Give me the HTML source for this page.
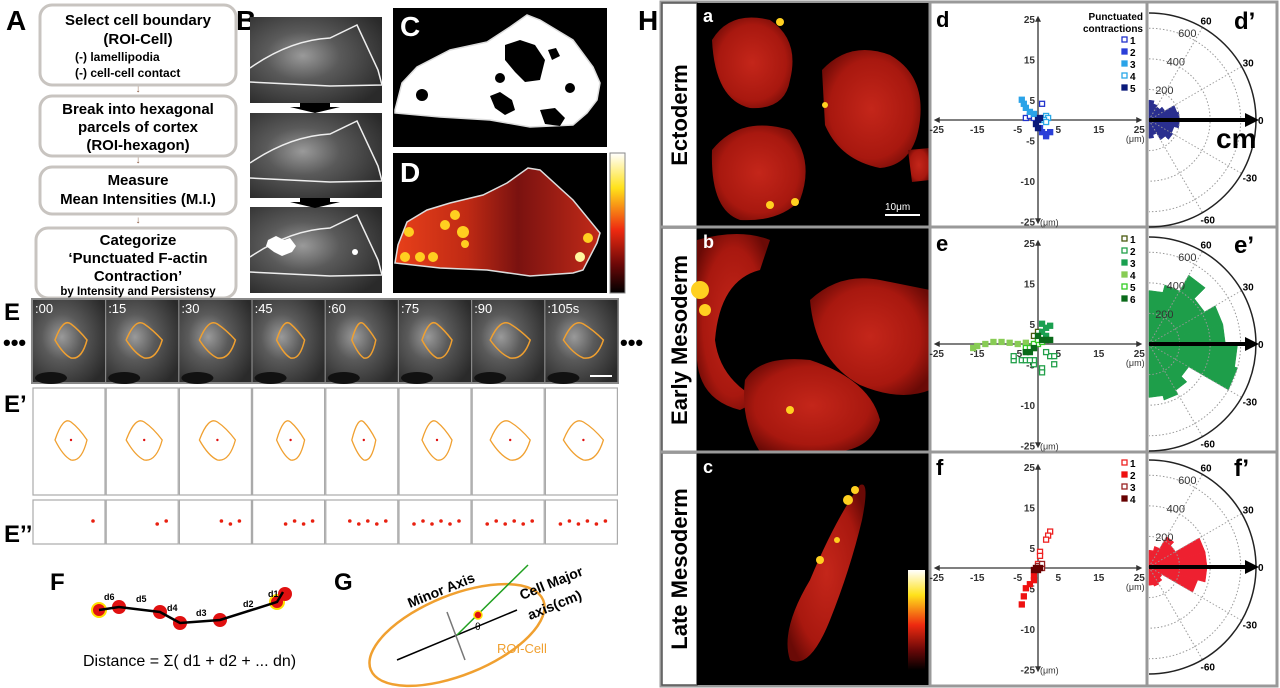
<!DOCTYPE html>
<html><head><meta charset="utf-8"><style>
html,body{margin:0;padding:0;background:#fff;}
svg{display:block;font-family:"Liberation Sans",Arial,sans-serif;}
</style></head><body>
<svg id="fig" width="1280" height="688" viewBox="0 0 1280 688" xmlns="http://www.w3.org/2000/svg">
<defs>
<radialGradient id="grayimg" cx="0.4" cy="0.45" r="0.7"><stop offset="0" stop-color="#9a9a9a"/><stop offset="0.4" stop-color="#5a5a5a"/><stop offset="1" stop-color="#2a2a2a"/></radialGradient>
<radialGradient id="redcell" cx="0.5" cy="0.5" r="0.6"><stop offset="0" stop-color="#c4261a"/><stop offset="0.7" stop-color="#a8180f"/><stop offset="1" stop-color="#6a0a06"/></radialGradient>
<linearGradient id="dgrad" x1="0" y1="0" x2="1" y2="0"><stop offset="0" stop-color="#e8401a"/><stop offset="0.35" stop-color="#c02a14"/><stop offset="0.6" stop-color="#7a1210"/><stop offset="1" stop-color="#c22a18"/></linearGradient>
<linearGradient id="cbar" x1="0" y1="0" x2="0" y2="1"><stop offset="0" stop-color="#ffffff"/><stop offset="0.25" stop-color="#ffe21a"/><stop offset="0.55" stop-color="#ee2a10"/><stop offset="0.8" stop-color="#6a0808"/><stop offset="1" stop-color="#000"/></linearGradient>
</defs>

<!-- Panel A -->
<g>
<text x="6" y="30" font-size="28" font-weight="bold">A</text>
<rect x="40" y="5" width="196" height="80" rx="12" fill="#fff" stroke="#c8c4c0" stroke-width="3"/>
<text x="138" y="25" font-size="15" font-weight="bold" text-anchor="middle">Select cell boundary</text>
<text x="138" y="44" font-size="15" font-weight="bold" text-anchor="middle">(ROI-Cell)</text>
<text x="75" y="61" font-size="12" font-weight="bold">(-) lamellipodia</text>
<text x="75" y="77" font-size="12" font-weight="bold">(-) cell-cell contact</text>
<text x="138" y="92" font-size="10" fill="#8a5a40" text-anchor="middle">↓</text>
<rect x="40" y="96" width="196" height="60" rx="12" fill="#fff" stroke="#c8c4c0" stroke-width="3"/>
<text x="138" y="114" font-size="15" font-weight="bold" text-anchor="middle">Break into hexagonal</text>
<text x="138" y="132" font-size="15" font-weight="bold" text-anchor="middle">parcels of cortex</text>
<text x="138" y="150" font-size="15" font-weight="bold" text-anchor="middle">(ROI-hexagon)</text>
<text x="138" y="163" font-size="10" fill="#8a5a40" text-anchor="middle">↓</text>
<rect x="40" y="167" width="196" height="47" rx="12" fill="#fff" stroke="#c8c4c0" stroke-width="3"/>
<text x="138" y="185" font-size="15" font-weight="bold" text-anchor="middle">Measure</text>
<text x="138" y="204" font-size="15" font-weight="bold" text-anchor="middle">Mean Intensities (M.I.)</text>
<text x="138" y="223" font-size="10" fill="#8a5a40" text-anchor="middle">↓</text>
<rect x="36" y="228" width="200" height="70" rx="12" fill="#fff" stroke="#c8c4c0" stroke-width="3"/>
<text x="138" y="245" font-size="15" font-weight="bold" text-anchor="middle">Categorize</text>
<text x="138" y="263" font-size="15" font-weight="bold" text-anchor="middle">‘Punctuated F-actin</text>
<text x="138" y="281" font-size="15" font-weight="bold" text-anchor="middle">Contraction’</text>
<text x="138" y="295" font-size="11.5" font-weight="bold" text-anchor="middle">by Intensity and Persistensy</text>
</g>

<!-- Panel B -->
<g>
<text x="236" y="30" font-size="28" font-weight="bold">B</text>
<rect x="250" y="17" width="132" height="86" fill="url(#grayimg)"/>
<rect x="250" y="113" width="132" height="85" fill="url(#grayimg)"/>
<rect x="250" y="207" width="132" height="86" fill="url(#grayimg)"/>
<path d="M250 68 Q290 40 330 38 L357 25 L378 70 L382 85 L330 86 L250 82" fill="none" stroke="#eee" stroke-width="1.5"/>
<path d="M250 163 Q290 136 330 134 L357 121 L378 166 L382 181 L330 182 L250 178" fill="none" stroke="#eee" stroke-width="1.5"/>
<path d="M250 257 Q290 230 330 228 L357 215 L378 260 L382 275 L330 276 L250 272" fill="none" stroke="#eee" stroke-width="1.5"/>
<path d="M268 240 l8 -4 8 4 6 -2 6 8 -4 6 -10 4 -8 -4 -8 -6z" fill="#fff"/>
<circle cx="355" cy="252" r="3" fill="#fff"/>
<polygon points="300,103 330,103 330,107 340,107 315,113 290,107 300,107" fill="#000"/>
<polygon points="300,198 330,198 330,202 340,202 315,208 290,202 300,202" fill="#000"/>
</g>

<!-- Panel C -->
<g>
<rect x="393" y="8" width="214" height="139" fill="#000"/>
<polygon points="395,110 402,83 417,67 450,50 487,42 510,27 527,15 540,20 573,40 593,67 600,83 597,100 587,113 573,125 530,127 490,120 440,117 395,113" fill="#fff" stroke="#ddd" stroke-width="1.5"/>
<g fill="#000">
<polygon points="505,45 520,40 535,45 545,60 540,80 525,82 515,72 505,60"/>
<polygon points="548,50 556,48 560,56 552,60"/>
<circle cx="422" cy="95" r="6"/><circle cx="500" cy="78" r="5"/><circle cx="570" cy="88" r="5"/>
<polygon points="490,96 500,92 512,100 515,110 505,115 495,108"/>
<polygon points="540,110 555,108 565,118 560,126 545,124"/>
</g>
<text x="400" y="36" font-size="28" font-weight="bold" fill="#fff">C</text>
</g>

<!-- Panel D -->
<g>
<rect x="393" y="153" width="214" height="140" fill="#000"/>
<polygon points="395,263 398,245 407,222 427,210 450,203 483,195 507,183 528,168 540,170 573,200 600,233 597,243 583,270 573,273 530,276 487,270 440,268 395,263" fill="url(#dgrad)" stroke="#ddd" stroke-width="1.5"/>
<g fill="#ffcf20">
<circle cx="455" cy="215" r="5"/><circle cx="463" cy="232" r="6"/><circle cx="445" cy="225" r="5"/><circle cx="405" cy="257" r="5"/><circle cx="420" cy="257" r="5"/><circle cx="433" cy="257" r="5"/><circle cx="409" cy="232" r="5"/><circle cx="465" cy="244" r="4"/><circle cx="588" cy="238" r="5"/><circle cx="580" cy="257" r="5" fill="#fff8a0"/>
</g>
<text x="400" y="182" font-size="28" font-weight="bold" fill="#fff">D</text>
<rect x="610" y="153" width="15" height="140" fill="url(#cbar)" stroke="#888"/>
</g>

<!-- Panel E -->
<g>
<text x="4" y="320" font-size="24" font-weight="bold">E</text>
<text x="3" y="350" font-size="22" font-weight="bold">•••</text>
<text x="620" y="350" font-size="22" font-weight="bold">•••</text>
<rect x="31" y="298" width="588" height="86" fill="#888"/>
<g id="eframes"></g>
<text x="4" y="412" font-size="24" font-weight="bold">E’</text>
<text x="4" y="562" font-size="24" font-weight="bold" transform="translate(0,-20)">E’’</text>
</g>

<!-- Panel F -->
<g>
<text x="50" y="590" font-size="24" font-weight="bold">F</text>
<g fill="#e01010"><circle cx="99" cy="610" r="7" stroke="#ffe000" stroke-width="2"/><circle cx="119" cy="607" r="7"/><circle cx="160" cy="612" r="7"/><circle cx="180" cy="623" r="7"/><circle cx="220" cy="620" r="7"/><circle cx="277" cy="602" r="7" stroke="#ffe000" stroke-width="2"/><circle cx="285" cy="594" r="7"/></g>
<polyline points="99,610 119,607 160,612 180,623 220,620 277,602 283,592" fill="none" stroke="#000" stroke-width="2.5"/>
<g font-size="9" font-weight="bold"><text x="104" y="600">d6</text><text x="136" y="602">d5</text><text x="167" y="611">d4</text><text x="196" y="616">d3</text><text x="243" y="607">d2</text><text x="268" y="597">d1</text></g>
<text x="83" y="666" font-size="16">Distance = Σ( d1 + d2 + ...  dn)</text>
</g>

<!-- Panel G -->
<g>
<text x="334" y="590" font-size="24" font-weight="bold">G</text>
<ellipse cx="457" cy="635" rx="93" ry="40" transform="rotate(-22 457 635)" fill="none" stroke="#f0a030" stroke-width="2.5"/>
<line x1="397" y1="660" x2="517" y2="610" stroke="#000" stroke-width="1.5"/>
<line x1="447" y1="612" x2="465" y2="660" stroke="#777" stroke-width="1.5"/>
<line x1="457" y1="635" x2="528" y2="565" stroke="#20a020" stroke-width="1.5"/>
<circle cx="478" cy="615" r="4" fill="#e01010" stroke="#ffe000" stroke-width="1.5"/>
<text x="475" y="630" font-size="10">θ</text>
<text x="410" y="608" font-size="14" font-weight="bold" transform="rotate(-22 410 608)">Minor Axis</text>
<text x="522" y="600" font-size="14" font-weight="bold" transform="rotate(-22 522 600)">Cell Major</text>
<text x="530" y="620" font-size="14" font-weight="bold" transform="rotate(-22 530 620)">axis(cm)</text>
<text x="497" y="653" font-size="13" fill="#f0a030">ROI-Cell</text>
</g>

<!-- Panel H -->
<g>
<text x="638" y="30" font-size="28" font-weight="bold">H</text>
<rect x="661" y="2" width="616" height="684" fill="none" stroke="#999" stroke-width="3"/>
<g id="rowlabels"></g>
<!-- images -->
<rect x="697" y="3" width="233" height="224" fill="#000"/>
<rect x="697" y="228" width="233" height="224" fill="#000"/>
<rect x="697" y="453" width="233" height="232" fill="#000"/>
<g fill="url(#redcell)">
<path d="M712 40 Q730 10 770 20 Q800 40 790 80 Q785 110 750 108 Q715 100 712 40z"/>
<path d="M822 70 Q850 40 890 55 Q925 75 920 120 Q915 165 880 168 Q840 160 825 125z"/>
<path d="M712 150 Q740 115 790 130 Q815 160 800 200 Q780 222 740 220 Q710 210 712 150z"/>
<path d="M908 150 L930 148 L930 180 L912 182z"/>
<path d="M697 240 Q740 228 770 240 L760 270 Q720 280 715 340 Q720 380 760 400 L740 410 Q700 400 697 360z"/>
<path d="M810 300 Q840 272 880 280 L930 290 L930 390 Q900 402 860 385 Q815 360 810 300z"/>
<path d="M745 380 Q760 355 810 360 Q870 380 880 420 Q870 452 830 452 L760 452 Q740 420 745 380z"/>
<path d="M790 660 Q780 630 810 580 Q835 520 860 485 Q870 480 862 520 Q850 570 830 620 Q810 670 790 660z"/>
</g>
<g fill="#ffd020"><circle cx="770" cy="205" r="4"/><circle cx="795" cy="202" r="4"/><circle cx="780" cy="22" r="4"/><circle cx="825" cy="105" r="3"/><circle cx="700" cy="290" r="9"/><circle cx="705" cy="310" r="6"/><circle cx="790" cy="410" r="4"/><circle cx="848" cy="500" r="5"/><circle cx="855" cy="490" r="4"/><circle cx="820" cy="560" r="4"/><circle cx="837" cy="540" r="3"/></g>
<line x1="885" y1="215" x2="920" y2="215" stroke="#fff" stroke-width="2"/>
<text x="885" y="210" font-size="10" fill="#fff">10μm</text>
<rect x="908" y="570" width="17" height="100" fill="url(#cbar)"/>
<text x="703" y="22" font-size="18" font-weight="bold" fill="#fff">a</text>
<text x="703" y="248" font-size="18" font-weight="bold" fill="#fff">b</text>
<text x="703" y="473" font-size="18" font-weight="bold" fill="#fff">c</text>
<line x1="930" y1="2" x2="930" y2="686" stroke="#999" stroke-width="3"/>
<line x1="1147" y1="2" x2="1147" y2="686" stroke="#999" stroke-width="3"/>
<line x1="661" y1="227" x2="1277" y2="227" stroke="#999" stroke-width="3"/>
<line x1="661" y1="452" x2="1277" y2="452" stroke="#999" stroke-width="3"/>
<g id="plots"></g>
</g>
</svg>
<script>
// ---- Scatter data (μm) ----
const dX1=[-3,-2,1,-1], dY1=[0.5,1,4,0.5];
const dX2=[1,2,3,2,0.5], dY2=[-3,-4,-3,-3.5,-2];
const dX3=[-4,-3.5,-3,-2,-1], dY3=[5,4,3,2,1.5];
const dX4=[2,2.5,1.5,2], dY4=[1,0.5,0,-0.5];
const dX5=[0,-0.5,0.5,0], dY5=[0,-1,0.5,-2];
const eX1=[-1,0,1,2], eY1=[2,3,2,1];
const eX2=[-6,-6,-4,-3,-1,-1,1,1,3,4,4,2,-2], eY2=[-4,-3,-4,-4,-5,-4,-6,-7,-3,-3,-5,-2,-4];
const eX3=[1,2,3,1,2,0], eY3=[5,4,4.5,3,2,1];
const eX4=[-16,-15,-13,-11,-9,-7,-5,-3], eY4=[-1,-0.5,0,0.5,0.5,0.3,0,0.3];
const eX5=[-3,-2,-1,0,1,-1,0], eY5=[-1,-1,-1,0,0.5,0,1];
const eX6=[-3,-2,-1,0,1,2,3], eY6=[-2,-2,-1,2,1,1,1];
const fX1=[3,2.5,2,0.5,0.5,0], fY1=[9,8,7,4,3,1];
const fX2=[-4,-3.5,-3,-2,-1,-1], fY2=[-9,-7,-5,-4,-3,-2];
const fX3=[0,1,1], fY3=[0.5,0,1];
const fX4=[-1,0,0.5,-0.5], fY4=[-0.5,-0.5,0,0];
const xTicks=[-25,-15,-5,5,15,25];
const yTickVals=[25,15,5,-5,-15,-25];
const yTickLabels=["25","15","5","-5","-10","-25"];
// ---- Rose data ----
const roseAngles=[-82.5,-67.5,-52.5,-37.5,-22.5,-7.5,7.5,22.5,37.5,52.5,67.5,82.5];
const roseD=[120,100,150,180,170,200,200,190,120,100,110,130];
const roseE=[350,380,350,300,600,580,500,500,420,520,400,350];
const roseF=[120,130,120,100,330,380,380,380,200,230,140,110];
const ringVals=[200,400,600];
const angleLabels=[60,30,0,-30,-60];

const NS="http://www.w3.org/2000/svg";
function mk(tag,attrs,parent){const e=document.createElementNS(NS,tag);for(const k in attrs)e.setAttribute(k,attrs[k]);parent.appendChild(e);return e;}
const plots=document.getElementById('plots');

function scatter(top,letter,series,legendTitle){
  const g=mk('g',{},plots);
  
  
  const oy=top+115, ox=1038, k=4.05;
  const sx=v=>ox+v*k, sy=v=>oy-v*k;
  mk('line',{x1:sx(-25),y1:oy,x2:sx(25),y2:oy,stroke:'#333','stroke-width':1.3},g);
  mk('line',{x1:ox,y1:sy(25),x2:ox,y2:sy(-25),stroke:'#333','stroke-width':1.3},g);
  mk('path',{d:`M${sx(25)+3} ${oy} l-6 -3 0 6z M${sx(-25)-3} ${oy} l6 -3 0 6z M${ox} ${sy(25)-3} l-3 6 6 0z M${ox} ${sy(-25)+3} l-3 -6 6 0z`,fill:'#333'},g);
  xTicks.forEach(v=>{const t=mk('text',{x:sx(v),y:oy+13,'font-size':10,'font-weight':'bold','text-anchor':'middle',fill:'#333'},g);t.textContent=v;});
  yTickVals.forEach((v,i)=>{const t=mk('text',{x:ox-3,y:sy(v)+4,'font-size':10,'font-weight':'bold','text-anchor':'end',fill:'#333'},g);t.textContent=yTickLabels[i];});
  const u1=mk('text',{x:sx(25)-4,y:oy+22,'font-size':9,'text-anchor':'middle',fill:'#333'},g);u1.textContent='(μm)';
  const u2=mk('text',{x:ox+2,y:sy(-25)+4,'font-size':9,fill:'#333'},g);u2.textContent='(μm)';
  const lt=mk('text',{x:936,y:top+22,'font-size':22,'font-weight':'bold'},g);lt.textContent=letter;
  let ly=top+14;
  if(legendTitle){
    const a=mk('text',{x:1143,y:top+15,'font-size':10,'font-weight':'bold','text-anchor':'end'},g);a.textContent='Punctuated';
    const b=mk('text',{x:1143,y:top+27,'font-size':10,'font-weight':'bold','text-anchor':'end'},g);b.textContent='contractions';
    ly=top+39;
  }
  series.forEach((s,i)=>{
    s.xs.forEach((xv,j)=>{
      const r=mk('rect',{x:sx(xv)-2.5,y:sy(s.ys[j])-2.5,width:5,height:5,fill:s.open?'#fff':s.c,stroke:s.c,'stroke-width':1.3},g);
      
      
    });
    mk('rect',{x:1122,y:ly+i*12-7,width:5,height:5,fill:s.open?'#fff':s.c,stroke:s.c,'stroke-width':1.3},g);
    const t=mk('text',{x:1130,y:ly+i*12,'font-size':10,'font-weight':'bold'},g);t.textContent=(i+1);
  });
}
scatter(5,'d',[
 {xs:dX1,ys:dY1,c:'#2233cc',open:true},{xs:dX2,ys:dY2,c:'#2a3fd8'},{xs:dX3,ys:dY3,c:'#2aa3e8'},{xs:dX4,ys:dY4,c:'#2aa8e8',open:true},{xs:dX5,ys:dY5,c:'#0a1a7a'}],true);
scatter(229,'e',[
 {xs:eX1,ys:eY1,c:'#4a5a10',open:true},{xs:eX2,ys:eY2,c:'#22a04a',open:true},{xs:eX3,ys:eY3,c:'#1aa050'},{xs:eX4,ys:eY4,c:'#88cc55'},{xs:eX5,ys:eY5,c:'#33cc22',open:true},{xs:eX6,ys:eY6,c:'#0a6a1a'}],false);
scatter(453,'f',[
 {xs:fX1,ys:fY1,c:'#ee2222',open:true},{xs:fX2,ys:fY2,c:'#ee1111'},{xs:fX3,ys:fY3,c:'#992222',open:true},{xs:fX4,ys:fY4,c:'#660000'}],false);

function rose(top,letter,vals,color){
  const g=mk('g',{},plots);
  
  
  const cx=1149, cy=top+115, R=107, rs=v=>v/700*R;
  const P=(r,a)=>[cx+r*Math.cos(a*Math.PI/180), cy-r*Math.sin(a*Math.PI/180)];
  const w=7.5;
  vals.forEach((v,i)=>{
    const a=roseAngles[i], r=rs(v);
    const p1=P(r,a-w), p2=P(r,a+w);
    const p=mk('path',{d:`M${cx} ${cy} L${p1[0]} ${p1[1]} L${p2[0]} ${p2[1]}Z`,fill:color,stroke:color,'stroke-width':0.5},g);
    
    
  });
  ringVals.forEach(v=>{
    const a=P(rs(v),90), b=P(rs(v),-90);
    mk('path',{d:`M${a[0]} ${a[1]} A${rs(v)} ${rs(v)} 0 0 1 ${b[0]} ${b[1]}`,fill:'none',stroke:'#999','stroke-width':1,'stroke-dasharray':'1.5 2'},g);
    const lp=P(rs(v)+2,68);
    const t=mk('text',{x:lp[0]-6,y:lp[1]+4,'font-size':11,fill:'#333'},g);t.textContent=v;
  });
  [60,30,-30,-60].forEach(a=>{const e=P(R,a);mk('line',{x1:cx,y1:cy,x2:e[0],y2:e[1],stroke:'#999','stroke-width':1,'stroke-dasharray':'1.5 2'},g);});
  const a=P(R,90), b=P(R,-90);
  mk('path',{d:`M${a[0]} ${a[1]} A${R} ${R} 0 0 1 ${b[0]} ${b[1]}`,fill:'none',stroke:'#222','stroke-width':1.5},g);
  angleLabels.forEach(v=>{const q=P(R+8,v);const t=mk('text',{x:q[0]-6,y:q[1]+4,'font-size':10,'font-weight':'bold'},g);t.textContent=v;});
  mk('line',{x1:cx,y1:cy,x2:cx+R-8,y2:cy,stroke:'#000','stroke-width':4},g);
  mk('path',{d:`M${cx+R+3} ${cy} l-14 -7 0 14z`,fill:'#000'},g);
  const lt=mk('text',{x:1234,y:top+24,'font-size':24,'font-weight':'bold'},g);lt.textContent=letter+'’';
}
rose(5,'d',roseD,'#2a2f8f');
rose(229,'e',roseE,'#1e9e4a');
rose(452,'f',roseF,'#ee2030');
const cm=mk('text',{x:1216,y:148,'font-size':28,'font-weight':'bold'},plots);cm.textContent='cm';

// row labels
const rl=document.getElementById('rowlabels');
[['Ectoderm',3,224],['Early Mesoderm',228,224],['Late Mesoderm',453,232]].forEach(r=>{
  mk('rect',{x:662,y:r[1],width:35,height:r[2],fill:'#fff',stroke:'#555','stroke-width':1.5},rl);
  const t=mk('text',{x:687,y:r[1]+r[2]/2,'font-size':22,'font-weight':'bold','text-anchor':'middle',transform:`rotate(-90 687 ${r[1]+r[2]/2})`},rl);
  t.textContent=r[0];
});

// E frames
const ef=document.getElementById('eframes');
const times=[':00',':15',':30',':45',':60',':75',':90',':105s'];
times.forEach((tm,i)=>{
  const x=33+i*73.2;
  mk('rect',{x:x,y:300,width:72,height:82,fill:'url(#grayimg)'},ef);
  mk('ellipse',{cx:x+18,cy:378,rx:16,ry:6,fill:'#111'},ef);
  const ex=x+38, w=[16,18,18,14,12,15,20,20][i];
  mk('path',{d:`M${ex-w} ${340} q${w/2} -22 ${w} -16 q${w/2} 6 ${w} 16 q-${w/3} 20 -${w} 18 q-${w/2} -4 -${w} -18z`,fill:'none',stroke:'#f0a030','stroke-width':1.5},ef);
  const t=mk('text',{x:x+2,y:313,'font-size':13,fill:'#fff'},ef);t.textContent=tm;
  mk('rect',{x:x,y:388,width:72,height:107,fill:'#fff',stroke:'#aaa','stroke-width':1.2},ef);
  mk('path',{d:`M${ex-w} ${440} q${w/2} -24 ${w} -18 q${w/2} 6 ${w} 18 q-${w/3} 22 -${w} 20 q-${w/2} -4 -${w} -20z`,fill:'none',stroke:'#f0a030','stroke-width':1.3},ef);
  mk('circle',{cx:ex,cy:440,r:1.2,fill:'#e01010'},ef);
  mk('rect',{x:x,y:500,width:72,height:44,fill:'#fff',stroke:'#aaa','stroke-width':1.2},ef);
  for(let j=0;j<=Math.min(i,5);j++){mk('circle',{cx:x+60-j*9,cy:521+(j%2)*3,r:1.8,fill:'#e82010'},ef);}
});
mk('line',{x1:590,y1:376,x2:612,y2:376,stroke:'#fff','stroke-width':2},ef);
</script>
</body></html>
